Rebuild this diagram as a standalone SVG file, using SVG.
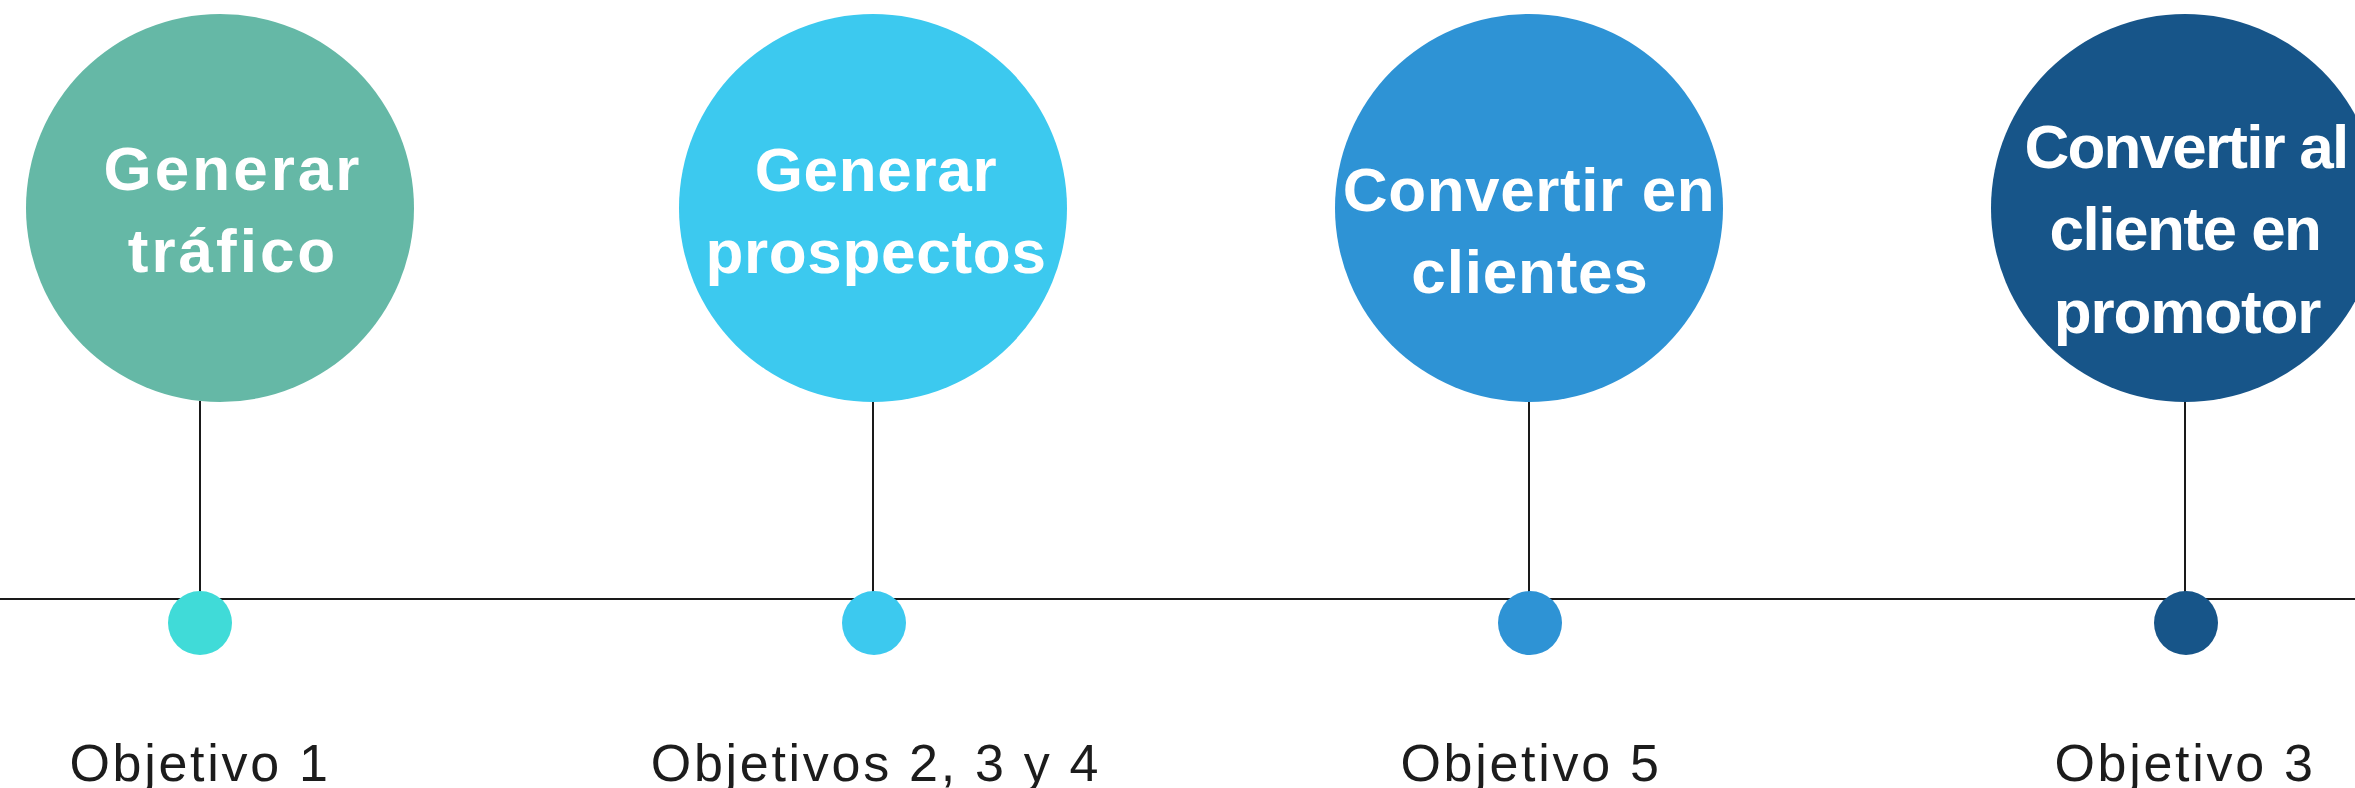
<svg xmlns="http://www.w3.org/2000/svg" width="2355" height="788" viewBox="0 0 2355 788">
  <style>
    .title { font-family: "Liberation Sans", Arial, sans-serif; font-weight: bold; font-size: 62px; fill: #ffffff; text-anchor: middle; }
    .goal { font-family: "Liberation Sans", Arial, sans-serif; font-size: 52px; fill: #1c1c1c; text-anchor: middle; letter-spacing: 2.7px; }
    .wire { stroke: #1a1a1a; stroke-width: 2; fill: none; }
  </style>
  <rect width="2355" height="788" fill="#ffffff"/>

  <!-- timeline axis and stems -->
  <g id="connectors">
    <line class="wire" x1="0" y1="599" x2="2355" y2="599"/>
    <line class="wire" x1="200" y1="401" x2="200" y2="600"/>
    <line class="wire" x1="873" y1="401" x2="873" y2="600"/>
    <line class="wire" x1="1529" y1="401" x2="1529" y2="600"/>
    <line class="wire" x1="2185" y1="401" x2="2185" y2="600"/>
  </g>

  <g id="stage-trafico">
    <circle cx="220" cy="208" r="194" fill="#65b8a6"/>
    <text class="title" style="letter-spacing:3px" x="233" y="190">Generar</text>
    <text class="title" style="letter-spacing:3px" x="233" y="272">tráfico</text>
    <circle cx="200" cy="623" r="32" fill="#40dbd8"/>
    <text class="goal" x="200" y="781">Objetivo 1</text>
  </g>

  <g id="stage-prospectos">
    <circle cx="873" cy="208" r="194" fill="#3cc9ef"/>
    <text class="title" style="letter-spacing:0.7px" x="876" y="191">Generar</text>
    <text class="title" style="letter-spacing:0.7px" x="876" y="273">prospectos</text>
    <circle cx="874" cy="623" r="32" fill="#3cc9ef"/>
    <text class="goal" x="876" y="781">Objetivos 2, 3 y 4</text>
  </g>

  <g id="stage-clientes">
    <circle cx="1529" cy="208" r="194" fill="#2e93d5"/>
    <text class="title" style="letter-spacing:0.6px" x="1529" y="211">Convertir en</text>
    <text class="title" style="letter-spacing:0.8px" x="1530" y="293">clientes</text>
    <circle cx="1530" cy="623" r="32" fill="#2e93d5"/>
    <text class="goal" x="1531" y="781">Objetivo 5</text>
  </g>

  <g id="stage-promotor">
    <circle cx="2185" cy="208" r="194" fill="#175589"/>
    <text class="title" style="letter-spacing:-1.8px" x="2186" y="168">Convertir al</text>
    <text class="title" style="letter-spacing:-1.5px" x="2185" y="250">cliente en</text>
    <text class="title" style="letter-spacing:-1.1px" x="2187" y="333">promotor</text>
    <circle cx="2186" cy="623" r="32" fill="#175589"/>
    <text class="goal" x="2185" y="781">Objetivo 3</text>
  </g>
</svg>
